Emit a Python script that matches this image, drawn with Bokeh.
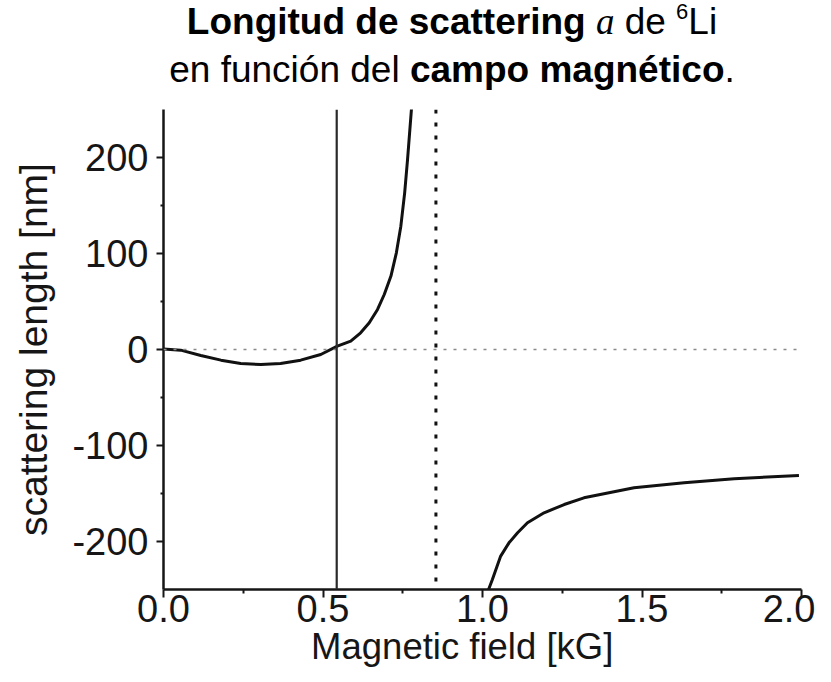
from bokeh.plotting import figure
from bokeh.models import Div, Span, FixedTicker, PrintfTickFormatter, ColumnDataSource
from bokeh.layouts import column
from bokeh.embed import file_html
from bokeh.resources import INLINE

# ---- data ----
# magnetic field [kG] and scattering length [nm]
branch1_B = [0.0, 0.054, 0.117, 0.180, 0.242, 0.305, 0.367, 0.430, 0.493, 0.545,
             0.587, 0.618, 0.645, 0.671, 0.692, 0.713, 0.730, 0.744, 0.756, 0.765, 0.778]
branch1_a = [0.5, -0.7, -6.2, -11.1, -14.6, -15.6, -14.6, -11.1, -5.2, 3.5,
             8.7, 17.4, 27.8, 41.7, 57.3, 76.5, 100.7, 128.5, 163.2, 197.9, 253.5]
branch2_B = [1.019, 1.031, 1.057, 1.083, 1.110, 1.141, 1.193, 1.256, 1.318,
             1.475, 1.632, 1.789, 1.992]
branch2_a = [-250.0, -239.6, -215.2, -201.4, -190.9, -180.5, -170.1, -161.5, -154.5,
             -144.1, -138.9, -134.7, -131.2]
zero_crossing_B = 0.543
resonance_B = 0.854
x_ticks = [0.0, 0.5, 1.0, 1.5, 2.0]
x_minor = [0.25, 0.75, 1.25, 1.75]
y_ticks = [-200, -100, 0, 100, 200]
y_minor = [-150, -50, 50, 150]

FONT = "'Liberation Sans', Arial, sans-serif"
INK = "#161616"
NB = "\u00a0"

title_html = (
    '<div style="box-sizing:border-box;width:815px;padding-left:79px;margin-top:-5px;'
    "font-family:'Liberation Sans',Arial,sans-serif;font-size:37px;line-height:43px;"
    'text-align:center;color:#000;">'
    '<b>Longitud de scattering</b> '
    "<i style=\"font-family:'Liberation Serif',serif\">a</i> de "
    '<span style="font-size:22px;position:relative;top:-15px">6</span>Li<br>'
    'en función del <b>campo magnético</b>.</div>'
)
title = Div(text=title_html, width=815, height=92)

p = figure(width=815, height=574, x_range=(0, 2.0), y_range=(-250, 250),
           output_backend="svg", toolbar_location=None,
           min_border_left=163, min_border_right=14, min_border_top=7, min_border_bottom=87)
p.outline_line_color = None
p.xgrid.visible = False
p.ygrid.visible = False

s1 = ColumnDataSource(dict(B=branch1_B, a=branch1_a))
s2 = ColumnDataSource(dict(B=branch2_B, a=branch2_a))

p.add_layout(Span(location=0, dimension="width", line_color="#8a8a8a",
                  line_width=1.6, line_dash="3 7"))
p.add_layout(Span(location=resonance_B, dimension="height", line_color="#111111",
                  line_width=3, line_dash="4 9"))
p.add_layout(Span(location=zero_crossing_B, dimension="height", line_color="#2a2a2a",
                  line_width=2.2))
p.line("B", "a", source=s1, line_color="#111111", line_width=3, line_join="round")
p.line("B", "a", source=s2, line_color="#111111", line_width=3, line_join="round")

for ax in (p.xaxis[0], p.yaxis[0]):
    ax.axis_line_color = INK
    ax.axis_line_width = 2.5
    ax.major_tick_line_color = INK
    ax.major_tick_line_width = 2
    ax.minor_tick_line_color = INK
    ax.minor_tick_line_width = 2
    ax.major_tick_in = 0
    ax.minor_tick_in = 0
    ax.major_label_text_font = FONT
    ax.major_label_text_font_size = "38px"
    ax.major_label_text_color = INK
    ax.axis_label_text_font = FONT
    ax.axis_label_text_font_style = "normal"
    ax.axis_label_text_color = INK

p.xaxis.ticker = FixedTicker(ticks=x_ticks, minor_ticks=x_minor)
p.yaxis.ticker = FixedTicker(ticks=y_ticks, minor_ticks=y_minor)
p.xaxis.formatter = PrintfTickFormatter(format="%.1f")
p.yaxis.formatter = PrintfTickFormatter(format="%d")
p.xaxis.major_tick_out = 8
p.xaxis.minor_tick_out = 4
p.yaxis.major_tick_out = 7
p.yaxis.minor_tick_out = 3
p.xaxis.major_label_standoff = -3
p.yaxis.major_label_standoff = 8
p.xaxis.axis_label = "Magnetic field [kG]" + NB * 4
p.yaxis.axis_label = "scattering length [nm]"
p.xaxis.axis_label_text_font_size = "36.5px"
p.yaxis.axis_label_text_font_size = "39px"
p.xaxis.axis_label_standoff = 1
p.yaxis.axis_label_standoff = 14

layout = column(title, p, spacing=0)
open("out.html", "w").write(file_html(layout, INLINE))
